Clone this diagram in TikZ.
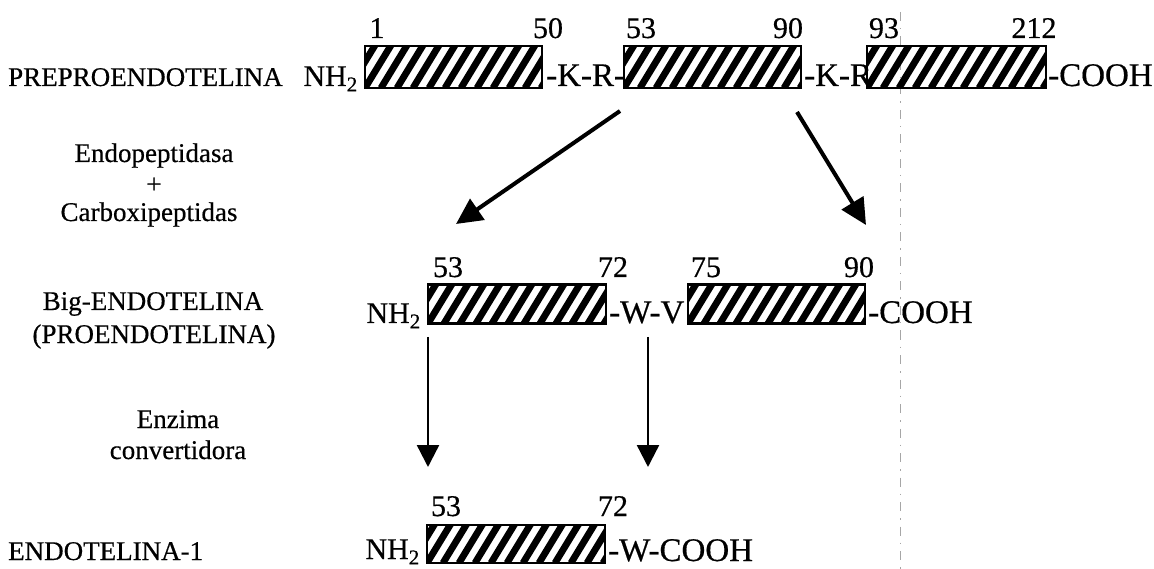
\documentclass[tikz,border=0pt]{standalone}
\usepackage{fontspec}
\setmainfont[FakeBold=0.5]{Liberation Serif}
\usetikzlibrary{arrows.meta}
\newcommand\lblfont{\fontsize{27pt}{32pt}\selectfont}
\newcommand\chfont{\fontsize{33pt}{38pt}\selectfont}
\newcommand\nhfont{\fontsize{30pt}{35pt}\selectfont}
\newcommand\numfont{\fontsize{30pt}{35pt}\selectfont}
\tikzset{
  hatchbox/.style={draw, line width=2.4pt, inner sep=0pt, minimum width=#1, minimum height=41pt,
    path picture={
      \foreach \k in {-3,...,13}{
        \draw[line width=6.8pt] ([xshift=\k*16pt]path picture bounding box.south west) -- ++(28pt,46pt);
      }}},
  lbl/.style={inner sep=0pt, font=\lblfont, anchor=base},
  chain/.style={inner sep=0pt, font=\chfont, anchor=base west},
  nh/.style={inner sep=0pt, font=\nhfont, anchor=base east},
  num/.style={inner sep=0pt, font=\numfont, anchor=base},
  bigarrow/.style={line width=4pt, -{Triangle[length=26pt,width=25pt]}},
  vertarrow/.style={line width=2.4pt, -{Triangle[length=22pt,width=22pt]}},
  guide/.style={gray!70, line width=0.9pt, dash pattern=on 9pt off 7pt on 1.5pt off 7pt},
}
\begin{document}
\begin{tikzpicture}[x=1pt,y=-1pt]
\useasboundingbox (0,0) rectangle (1154,569);
% guide line
\coordinate (gtop) at (900,12);
\coordinate (gbot) at (900,569);
\draw[guide] (gtop) -- (gbot);

% left labels
\node[lbl, anchor=base west] (pre) at (8,86) {PREPROENDOTELINA};
\node[lbl] (endo) at (154,162) {Endopeptidasa};
\node[lbl] (plus) at (154,193) {+};
\node[lbl] (carb) at (149,221) {Carboxipeptidas};
\node[lbl] (big) at (153,310) {Big-ENDOTELINA};
\node[lbl] (proe) at (154,343) {(PROENDOTELINA)};
\node[lbl] (enz) at (178,428) {Enzima};
\node[lbl] (conv) at (178,459) {convertidora};
\node[lbl, anchor=base west] (et1) at (8,560) {ENDOTELINA-1};

% row 1
\node[hatchbox=177pt, minimum height=42pt] (b11) at (453.5,67) {};
\node[hatchbox=177pt, minimum height=42pt] (b12) at (712.5,67) {};
\node[hatchbox=179pt, minimum height=42pt] (b13) at (956.5,67) {};
\node[nh] (nh1) at (358,86) {NH\textsubscript{2}};
\node[chain] (kr1) at (546,86) {-K-R-};
\node[chain] (kr2) at (804,86) {-K-R};
\node[chain] (co1) at (1048,86) {-COOH};
\node[num] (n1) at (377,38) {1};
\node[num] (n50) at (548,38) {50};
\node[num] (n53a) at (641,38) {53};
\node[num] (n90a) at (788,38) {90};
\node[num] (n93) at (884,38) {93};
\node[num] (n212) at (1034,38) {212};

% row 2
\node[hatchbox=178pt, minimum height=39pt] (b21) at (517,304) {};
\node[hatchbox=177pt, minimum height=39pt] (b22) at (776.5,304) {};
\node[nh] (nh2) at (421,323) {NH\textsubscript{2}};
\node[chain] (wv) at (609,323) {-W-V};
\node[chain] (co2) at (868,323) {-COOH};
\node[num] (n53b) at (448,277) {53};
\node[num] (n72b) at (613,277) {72};
\node[num] (n75) at (706,277) {75};
\node[num] (n90b) at (859,277) {90};

% row 3
\node[hatchbox=178pt, minimum height=38pt] (b31) at (516,544) {};
\node[nh] (nh3) at (420,559) {NH\textsubscript{2}};
\node[chain] (wc) at (608,561) {-W-COOH};
\node[num] (n53c) at (446,516) {53};
\node[num] (n72c) at (613,516) {72};

% arrows
\coordinate (d1s) at (620,111);
\coordinate (d1e) at (456,224);
\coordinate (d2s) at (797,112);
\coordinate (d2e) at (866,225);
\draw[bigarrow] (d1s) -- (d1e);
\draw[bigarrow] (d2s) -- (d2e);
\coordinate (v1s) at (428,337);
\coordinate (v1e) at (428,467);
\coordinate (v2s) at (648,337);
\coordinate (v2e) at (648,467);
\draw[vertarrow] (v1s) -- (v1e);
\draw[vertarrow] (v2s) -- (v2e);
\end{tikzpicture}
\end{document}
